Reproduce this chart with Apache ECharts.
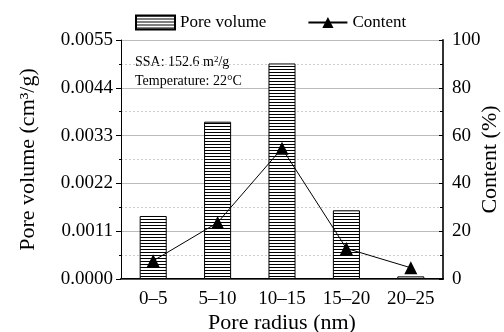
<!DOCTYPE html>
<html><head><meta charset="utf-8">
<script src="https://cdn.jsdelivr.net/npm/echarts@6/dist/echarts.min.js"></script>
<style>html,body{margin:0;padding:0;background:#fff}#c{width:504px;height:332px}</style>
</head><body><div id="c"></div>
<script>
const categories = ['0–5', '5–10', '10–15', '15–20', '20–25'];
const poreVolume = [0.00145, 0.00362, 0.00496, 0.00158, 0.00006];
const content = [7.6, 23.6, 54.7, 12.8, 4.7];
const leftTicks = [0, 0.0011, 0.0022, 0.0033, 0.0044, 0.0055];
const rightTicks = [0, 20, 40, 60, 80, 100];

const FONT = '"Liberation Serif", "DejaVu Serif", serif';
const pc = document.createElement('canvas');
pc.width = 4; pc.height = 3;
const g = pc.getContext('2d');
g.fillStyle = '#fff'; g.fillRect(0, 0, 4, 3);
g.fillStyle = '#000'; g.fillRect(0, 0, 4, 1);
const hatch = { image: pc, repeat: 'repeat' };

const chart = echarts.init(document.getElementById('c'), null, { renderer: 'canvas' });
chart.setOption({
  animation: false,
  backgroundColor: '#fff',
  textStyle: { fontFamily: FONT, color: '#000' },
  grid: { left: 121, right: 61, top: 40, bottom: 53, containLabel: false, outerBoundsMode: 'none' },
  legend: {
    top: 9, left: 130, itemWidth: 39, itemHeight: 14, itemGap: 41,
    textStyle: { fontFamily: FONT, fontSize: 17, color: '#000' },
    data: [
      { name: 'Pore volume', icon: 'rect' },
      { name: 'Content' }
    ]
  },
  xAxis: [{
    type: 'category', data: categories, position: 'bottom',
    axisLine: { lineStyle: { color: '#000', width: 2 } },
    axisTick: { show: false },
    axisLabel: { fontFamily: FONT, fontSize: 19, color: '#000', margin: 11, interval: 0, hideOverlap: false },
    name: 'Pore radius (nm)', nameLocation: 'middle', nameGap: 33, nameMoveOverlap: false,
    nameTextStyle: { fontFamily: FONT, fontSize: 22, color: '#000' }
  }, {
    type: 'category', data: categories, position: 'top',
    axisLine: { lineStyle: { color: '#555', width: 1 } },
    axisTick: { show: false }, axisLabel: { show: false }
  }],
  yAxis: [{
    type: 'value', min: 0, max: 0.0055, interval: 0.0011,
    axisLine: { show: true, lineStyle: { color: '#000', width: 1 } },
    axisTick: { show: true, inside: false, length: 5, lineStyle: { color: '#000' } },
    minorTick: { show: true, splitNumber: 2, length: 2, lineStyle: { color: '#000' } },
    splitLine: { show: true, lineStyle: { color: '#bbb', width: 1 } },
    minorSplitLine: { show: true, lineStyle: { color: '#ccc', type: [2, 2], width: 1 } },
    axisLabel: { fontFamily: FONT, fontSize: 19, color: '#000', margin: 8,
      formatter: v => v.toFixed(4) },
    name: 'Pore volume (cm³/g)', nameLocation: 'middle', nameGap: 82, nameRotate: 90, nameMoveOverlap: false,
    nameTextStyle: { fontFamily: FONT, fontSize: 22, color: '#000' }
  }, {
    type: 'value', min: 0, max: 100, interval: 20, position: 'right',
    axisLine: { show: true, lineStyle: { color: '#333', width: 2 } },
    axisTick: { show: true, inside: true, length: 4, lineStyle: { color: '#000' } },
    minorTick: { show: true, splitNumber: 2, length: 3, lineStyle: { color: '#000' } },
    splitLine: { show: false },
    axisLabel: { fontFamily: FONT, fontSize: 19, color: '#000', margin: 9 },
    name: 'Content (%)', nameLocation: 'middle', nameGap: 36, nameRotate: 90, nameMoveOverlap: false,
    nameTextStyle: { fontFamily: FONT, fontSize: 22, color: '#000' }
  }],
  graphic: [{
    type: 'text', left: 135, top: 55,
    style: {
      text: '{a|SSA: 152.6 m}{s|2}{a|/g}',
      rich: {
        a: { fontFamily: FONT, fontSize: 14, fill: '#000' },
        s: { fontFamily: FONT, fontSize: 9, fill: '#000', verticalAlign: 'top', padding: [0, 0, 6, 0] }
      }
    }
  }, {
    type: 'text', left: 135, top: 74,
    style: { text: 'Temperature: 22°C', fontFamily: FONT, fontSize: 14, fill: '#000' }
  }],
  series: [{
    name: 'Pore volume', type: 'bar', data: poreVolume, barWidth: '42%',
    itemStyle: { color: hatch, borderColor: '#000', borderWidth: 1 }
  }, {
    name: 'Content', type: 'line', yAxisIndex: 1, data: content,
    symbol: 'triangle', symbolSize: 13,
    lineStyle: { color: '#000', width: 1 },
    itemStyle: { color: '#000' }
  }]
});
</script></body></html>
